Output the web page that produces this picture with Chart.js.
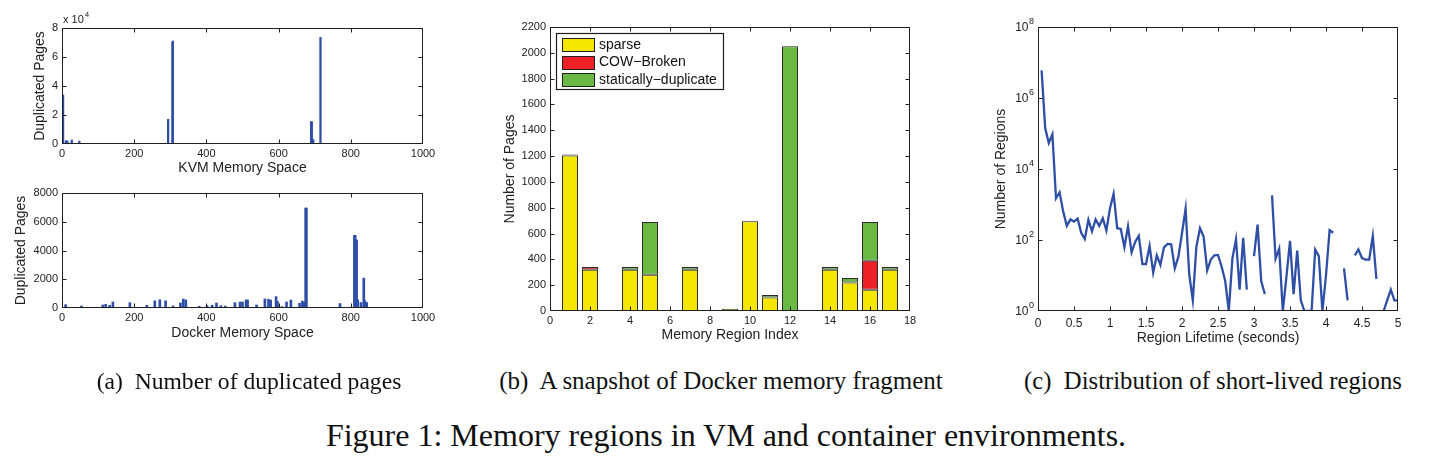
<!DOCTYPE html>
<html><head><meta charset="utf-8">
<script src="https://cdn.jsdelivr.net/npm/chart.js@4.4.1/dist/chart.umd.min.js"></script>
<style>
html,body{margin:0;padding:0;background:#fff;width:1454px;height:468px;overflow:hidden;}
body{position:relative;}
canvas{position:absolute;}
.cap{position:absolute;font-family:"Liberation Serif","Times New Roman",serif;color:#111;white-space:nowrap;transform:translate(-50%,-50%);}
</style></head><body>
<canvas id="cA1" width="450" height="185" style="left:0;top:0"></canvas>
<canvas id="cA2" width="450" height="175" style="left:0;top:180px"></canvas>
<canvas id="cB" width="450" height="355" style="left:490px;top:0"></canvas>
<canvas id="cC" width="479" height="355" style="left:975px;top:0"></canvas>
<div class="cap" style="left:249px;top:381px;font-size:23.6px">(a)&nbsp; Number of duplicated pages</div>
<div class="cap" style="left:721px;top:381px;font-size:25px">(b)&nbsp; A snapshot of Docker memory fragment</div>
<div class="cap" style="left:1213px;top:381px;font-size:24.7px">(c)&nbsp; Distribution of short-lived regions</div>
<div class="cap" style="left:726px;top:435px;font-size:32px">Figure 1: Memory regions in VM and container environments.</div>
<script>
// ---------- data ----------
const kvmIdx = [3, 11, 15, 27, 48, 294, 306, 307, 690, 692, 696, 716];
const kvmVal = [33800, 2300, 2000, 2800, 2000, 17000, 70000, 71000, 15400, 15400, 3000, 73500];
const kvmTicks = [0, 2, 4, 6, 8]; // x 10^4

const dockerIdx = [10, 54, 113, 121, 132, 141, 188, 235, 257, 271, 287, 308, 328, 336, 343, 380, 402, 416, 428, 440, 452, 479, 493, 500, 510, 514, 539, 562, 572, 578, 593, 597, 609, 622, 634, 658, 666, 670, 675, 677, 770, 810, 812, 814, 816, 819, 828, 836, 839, 844];
const dockerVal = [230, 140, 210, 255, 190, 420, 370, 190, 500, 570, 500, 140, 350, 620, 560, 120, 160, 190, 350, 160, 140, 370, 410, 420, 560, 560, 210, 630, 610, 550, 790, 450, 90, 420, 550, 330, 480, 400, 6950, 6950, 310, 5050, 5050, 4730, 4730, 570, 380, 2080, 500, 380];

const regionIdx = [1, 2, 3, 4, 5, 6, 7, 8, 9, 10, 11, 12, 13, 14, 15, 16, 17];
const sparse    = [1205, 320, 4, 320, 280, 4, 320, 3, 18, 695, 105, 0, 4, 320, 220, 165, 320];
const cowBroken = [8, 20, 0, 0, 0, 0, 0, 0, 0, 0, 0, 0, 0, 0, 0, 225, 0];
const staticDup = [0, 0, 0, 20, 410, 0, 20, 0, 0, 5, 18, 2050, 0, 20, 35, 300, 20];
const seriesNames = ['sparse', 'COW\u2212Broken', 'statically\u2212duplicate'];

const lifetimeSec = [0.05,0.1,0.15,0.2,0.25,0.3,0.35,0.4,0.45,0.5,0.55,0.6,0.65,0.7,0.75,0.8,0.85,0.9,0.95,1.0,
  1.05,1.1,1.15,1.2,1.25,1.3,1.35,1.4,1.45,1.5,1.55,1.6,1.65,1.7,1.75,1.8,1.85,1.9,1.95,2.0,
  2.05,2.1,2.15,2.2,2.25,2.3,2.35,2.4,2.45,2.5,2.55,2.6,2.65,2.7,2.75,2.8,2.85,2.9,2.95,3.0,
  3.05,3.1,3.15,3.2,3.25,3.3,3.35,3.4,3.45,3.5,3.55,3.6,3.65,3.7,3.75,3.8,3.85,3.9,3.95,4.0,
  4.05,4.1,4.15,4.2,4.25,4.3,4.35,4.4,4.45,4.5,4.55,4.6,4.65,4.7,4.75,4.8,4.85,4.9,4.95,5.0];
const regionCount = [6000000,140000,54000,95000,1500,2200,630,250,380,330,
  400,160,107,370,175,380,250,410,185,780,
  2000,215,205,63,240,45,89,130,21,21,
  68,12,37,20,62,78,76,16,34,155,
  760,11,2,65,215,126,14,28,37,38,
  18,7,1,30,105,4,115,4,null,35,
  270,7,3,null,1800,30,57,1,9,95,
  3,50,2,1,1,1,54,35,1,10,
  190,160,null,null,16,2,null,37,54,31,
  28,28,130,8,null,1,2,4,2,2];
const logTickPowers = [0, 2, 4, 6, 8];

// ---------- styling helpers ----------
const FONT = '"Liberation Sans", Arial, Helvetica, sans-serif';
const INK = '#1f1f1f';
const TXT = '#222';
const BLUE = '#2f4fa6';
Chart.defaults.font.family = FONT;
Chart.defaults.color = TXT;
Chart.defaults.animation = false;

const plainNum = v => String(Math.round(v * 1000) / 1000);
function fixY(w){ return s => { s.width = w; s.paddingTop = 0; s.paddingBottom = 0; s.paddingLeft = 0; s.paddingRight = 0; }; }
function fixX(h){ return s => { s.height = h; s.paddingLeft = 0; s.paddingRight = 0; s.paddingTop = 0; s.paddingBottom = 0; }; }

const boxTicks = {
  id: 'boxTicks',
  afterDraw(chart) {
    const {ctx, chartArea: a, scales} = chart;
    const L = 4;
    ctx.save();
    ctx.strokeStyle = INK; ctx.lineWidth = 1;
    const l = Math.round(a.left) + 0.5, r = Math.round(a.right) - 0.5, t = Math.round(a.top) + 0.5, b = Math.round(a.bottom) - 0.5;
    ctx.beginPath();
    scales.x.ticks.forEach(tk => {
      const p = Math.round(scales.x.getPixelForValue(tk.value)) + 0.5;
      if (p <= l + 1 || p >= r - 1) return;
      ctx.moveTo(p, b); ctx.lineTo(p, b - L); ctx.moveTo(p, t); ctx.lineTo(p, t + L);
    });
    scales.y.ticks.forEach(tk => {
      const p = Math.round(scales.y.getPixelForValue(tk.value)) + 0.5;
      if (p <= t + 1 || p >= b - 1) return;
      ctx.moveTo(l, p); ctx.lineTo(l + L, p); ctx.moveTo(r, p); ctx.lineTo(r - L, p);
    });
    ctx.stroke();
    ctx.strokeRect(l, t, r - l, b - t);
    ctx.restore();
  }
};
Chart.register(boxTicks);

function xAxis(min, max, step, h, tickPad, tickSize, title, titlePadBottom, extra) {
  return Object.assign({
    type: 'linear', min, max, offset: false,
    ticks: {stepSize: step, padding: tickPad, font: {size: tickSize}, color: TXT, maxRotation: 0, autoSkip: false, callback: plainNum},
    grid: {display: false, drawTicks: false, offset: false}, border: {display: false},
    title: {display: true, text: title, font: {size: 14}, color: TXT, padding: {top: 0, bottom: titlePadBottom}},
    afterFit: fixX(h)
  }, extra || {});
}
function yAxis(min, max, step, w, tickPad, tickSize, title, titlePadTop, extra) {
  return Object.assign({
    type: 'linear', min, max,
    ticks: {stepSize: step, padding: tickPad, font: {size: tickSize}, color: TXT, autoSkip: false, callback: plainNum},
    grid: {display: false, drawTicks: false}, border: {display: false},
    title: {display: true, text: title, font: {size: 14}, color: TXT, padding: {top: titlePadTop, bottom: 0}},
    afterFit: fixY(w)
  }, extra || {});
}
const basePlugins = {legend: {display: false}, tooltip: {enabled: false}};

// ---------- (a) top: KVM ----------
const expLabel = {
  id: 'expLabel',
  afterDraw(chart) {
    const {ctx, chartArea: a} = chart;
    ctx.save();
    ctx.fillStyle = TXT; ctx.textAlign = 'left'; ctx.textBaseline = 'alphabetic';
    ctx.font = '11px ' + FONT;
    const s = 'x 10';
    ctx.fillText(s, a.left + 1, a.top - 5.5);
    const w = ctx.measureText(s).width;
    ctx.font = '8px ' + FONT;
    ctx.fillText('4', a.left + 2 + w, a.top - 11);
    ctx.restore();
  }
};
new Chart(document.getElementById('cA1'), {
  type: 'bar',
  data: {datasets: [{
    data: kvmIdx.map((x, i) => ({x, y: kvmVal[i]})),
    backgroundColor: BLUE, borderWidth: 0, barThickness: 1.6
  }]},
  options: {
    responsive: false,
    layout: {padding: {left: 0, top: 28, right: 27, bottom: 0}},
    plugins: basePlugins,
    scales: {
      x: xAxis(0, 1000, 200, 41, 3, 11, 'KVM Memory Space', 8.6),
      y: yAxis(0, 80000, 20000, 62, 4, 11, 'Duplicated Pages', 31.6,
        {ticks: {stepSize: 20000, padding: 4, font: {size: 11}, color: TXT, autoSkip: false,
          callback: (v) => { const k = v / 10000; return kvmTicks.includes(k) ? String(k) : ''; }}})
    }
  },
  plugins: [expLabel]
});

// ---------- (a) bottom: Docker ----------
new Chart(document.getElementById('cA2'), {
  type: 'bar',
  data: {datasets: [{
    data: dockerIdx.map((x, i) => ({x, y: dockerVal[i]})),
    backgroundColor: BLUE, borderWidth: 0, barThickness: 2
  }]},
  options: {
    responsive: false,
    layout: {padding: {left: 0, top: 13, right: 27, bottom: 0}},
    plugins: basePlugins,
    scales: {
      x: xAxis(0, 1000, 200, 47, 3, 11, 'Docker Memory Space', 13.3),
      y: yAxis(0, 8000, 2000, 62, 4, 11, 'Duplicated Pages', 12.6)
    }
  }
});

// ---------- (b) stacked bars ----------
const legendB = {
  id: 'legendB',
  afterDraw(chart) {
    const {ctx, chartArea: a} = chart;
    const x0 = Math.round(a.left) + 6, y0 = Math.round(a.top) + 6, w = 167, h = 56;
    ctx.save();
    ctx.fillStyle = '#fff'; ctx.fillRect(x0, y0, w, h);
    ctx.strokeStyle = INK; ctx.lineWidth = 1.2; ctx.strokeRect(x0 + 0.5, y0 + 0.5, w, h);
    ctx.lineWidth = 1;
    chart.data.datasets.forEach((ds, i) => {
      const cy = y0 + 11.5 + i * 17.5;
      ctx.fillStyle = ds.backgroundColor;
      ctx.fillRect(x0 + 6, Math.round(cy - 6.5), 32, 13);
      ctx.strokeStyle = INK;
      ctx.strokeRect(x0 + 6.5, Math.round(cy - 6.5) + 0.5, 32, 13);
      ctx.fillStyle = '#111'; ctx.font = '14px ' + FONT; ctx.textBaseline = 'middle'; ctx.textAlign = 'left';
      ctx.fillText(ds.label, x0 + 43, cy + 0.5);
    });
    ctx.restore();
  }
};
const nz = v => (v > 0 ? v : null);
const barCommon = {borderColor: '#2a2a2a', borderWidth: 1, borderSkipped: false, barPercentage: 0.8, categoryPercentage: 1};
new Chart(document.getElementById('cB'), {
  type: 'bar',
  data: {datasets: [
    Object.assign({label: seriesNames[0], data: regionIdx.map((x, i) => ({x, y: nz(sparse[i])})), backgroundColor: '#f4e600'}, barCommon),
    Object.assign({label: seriesNames[1], data: regionIdx.map((x, i) => ({x, y: nz(cowBroken[i])})), backgroundColor: '#ee2226'}, barCommon),
    Object.assign({label: seriesNames[2], data: regionIdx.map((x, i) => ({x, y: nz(staticDup[i])})), backgroundColor: '#69b944'}, barCommon)
  ]},
  options: {
    responsive: false,
    layout: {padding: {left: 0, top: 27, right: 30, bottom: 0}},
    plugins: basePlugins,
    scales: {
      x: xAxis(0, 18, 2, 44, 3.5, 11, 'Memory Region Index', 11.6, {stacked: true}),
      y: yAxis(0, 2200, 200, 60, 4, 11, 'Number of Pages', 11.6, {stacked: true})
    }
  },
  plugins: [legendB]
});

// ---------- (c) log line ----------
const logLabels = {
  id: 'logLabels',
  afterDraw(chart) {
    const {ctx, chartArea: a, scales: {y}} = chart;
    ctx.save();
    ctx.fillStyle = TXT; ctx.textBaseline = 'middle'; ctx.textAlign = 'right';
    logTickPowers.forEach(e => {
      const py = y.getPixelForValue(Math.pow(10, e));
      ctx.font = '9px ' + FONT;
      const ex = String(e);
      const ew = ctx.measureText(ex).width;
      ctx.fillText(ex, a.left - 4, py - 5);
      ctx.font = '12px ' + FONT;
      ctx.fillText('10', a.left - 4.5 - ew, py + 0.5);
    });
    ctx.restore();
  }
};
new Chart(document.getElementById('cC'), {
  type: 'line',
  data: {datasets: [{
    data: lifetimeSec.map((x, i) => ({x, y: regionCount[i]})),
    borderColor: BLUE, borderWidth: 2.3, pointRadius: 0, spanGaps: false, tension: 0, fill: false
  }]},
  options: {
    responsive: false,
    layout: {padding: {left: 0, top: 27, right: 56, bottom: 0}},
    plugins: basePlugins,
    scales: {
      x: xAxis(0, 5, 0.5, 44, 5, 12, 'Region Lifetime (seconds)', 8.6),
      y: {
        type: 'logarithmic', min: 1, max: 1e8,
        afterBuildTicks: s => { s.ticks = logTickPowers.map(e => ({value: Math.pow(10, e)})); },
        ticks: {display: false},
        grid: {display: false, drawTicks: false}, border: {display: false},
        title: {display: true, text: 'Number of Regions', font: {size: 14}, color: TXT, padding: {top: 17.6, bottom: 0}},
        afterFit: fixY(63)
      }
    }
  },
  plugins: [logLabels]
});
</script>
</body></html>
